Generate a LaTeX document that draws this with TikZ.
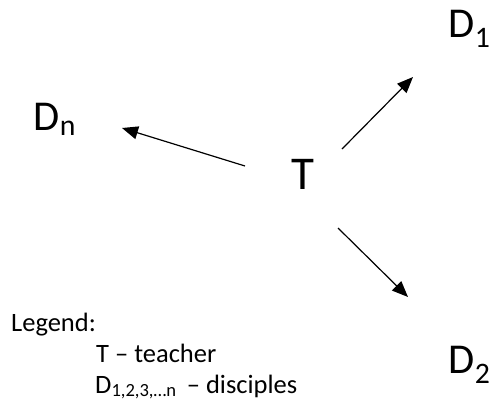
\documentclass[tikz,border=0pt]{standalone}
\usepackage{fontspec}
\setmainfont{Carlito}
\usetikzlibrary{arrows.meta}

\tikzset{
  every node/.style={inner sep=0pt, anchor=base west},
  dnode/.style={font=\fontsize{42.5}{50}\selectfont},
  tnode/.style={font=\fontsize{47}{56}\selectfont},
  legend/.style={font=\fontsize{26.5}{32}\selectfont},
  arr/.style={-{Triangle[length=16pt,width=13pt]}, line width=1.2pt},
}

\begin{document}
\begin{tikzpicture}[x=1pt,y=-1pt]
    \useasboundingbox (0,0) rectangle (493,400);

    \node[tnode] (T)  at (291.5,189) {T};
    \node[dnode] (D1) at (448.5,37)  {D\textsubscript{1}};
    \node[dnode] (D2) at (448.5,373) {D\textsubscript{2}};
    \node[dnode] (Dn) at (33.5,130)  {D\textsubscript{n}};

    % arrow ends, free of the nodes
    \coordinate (T1) at (342,149);
    \coordinate (T2) at (338,228);
    \coordinate (Tn) at (245,166);
    \coordinate (H1) at (413,77);
    \coordinate (H2) at (408,297);
    \coordinate (Hn) at (122,128);

    \draw[arr] (T1) -- (H1);
    \draw[arr] (T2) -- (H2);
    \draw[arr] (Tn) -- (Hn);

    \node[legend] (leg)  at (11,331) {Legend:};
    \node[legend] (legT) at (96,362) {T – teacher};
    \node[legend] (legD) at (95,393) {D\textsubscript{1,2,3,…n\ }\ – disciples};

\end{tikzpicture}
\end{document}
